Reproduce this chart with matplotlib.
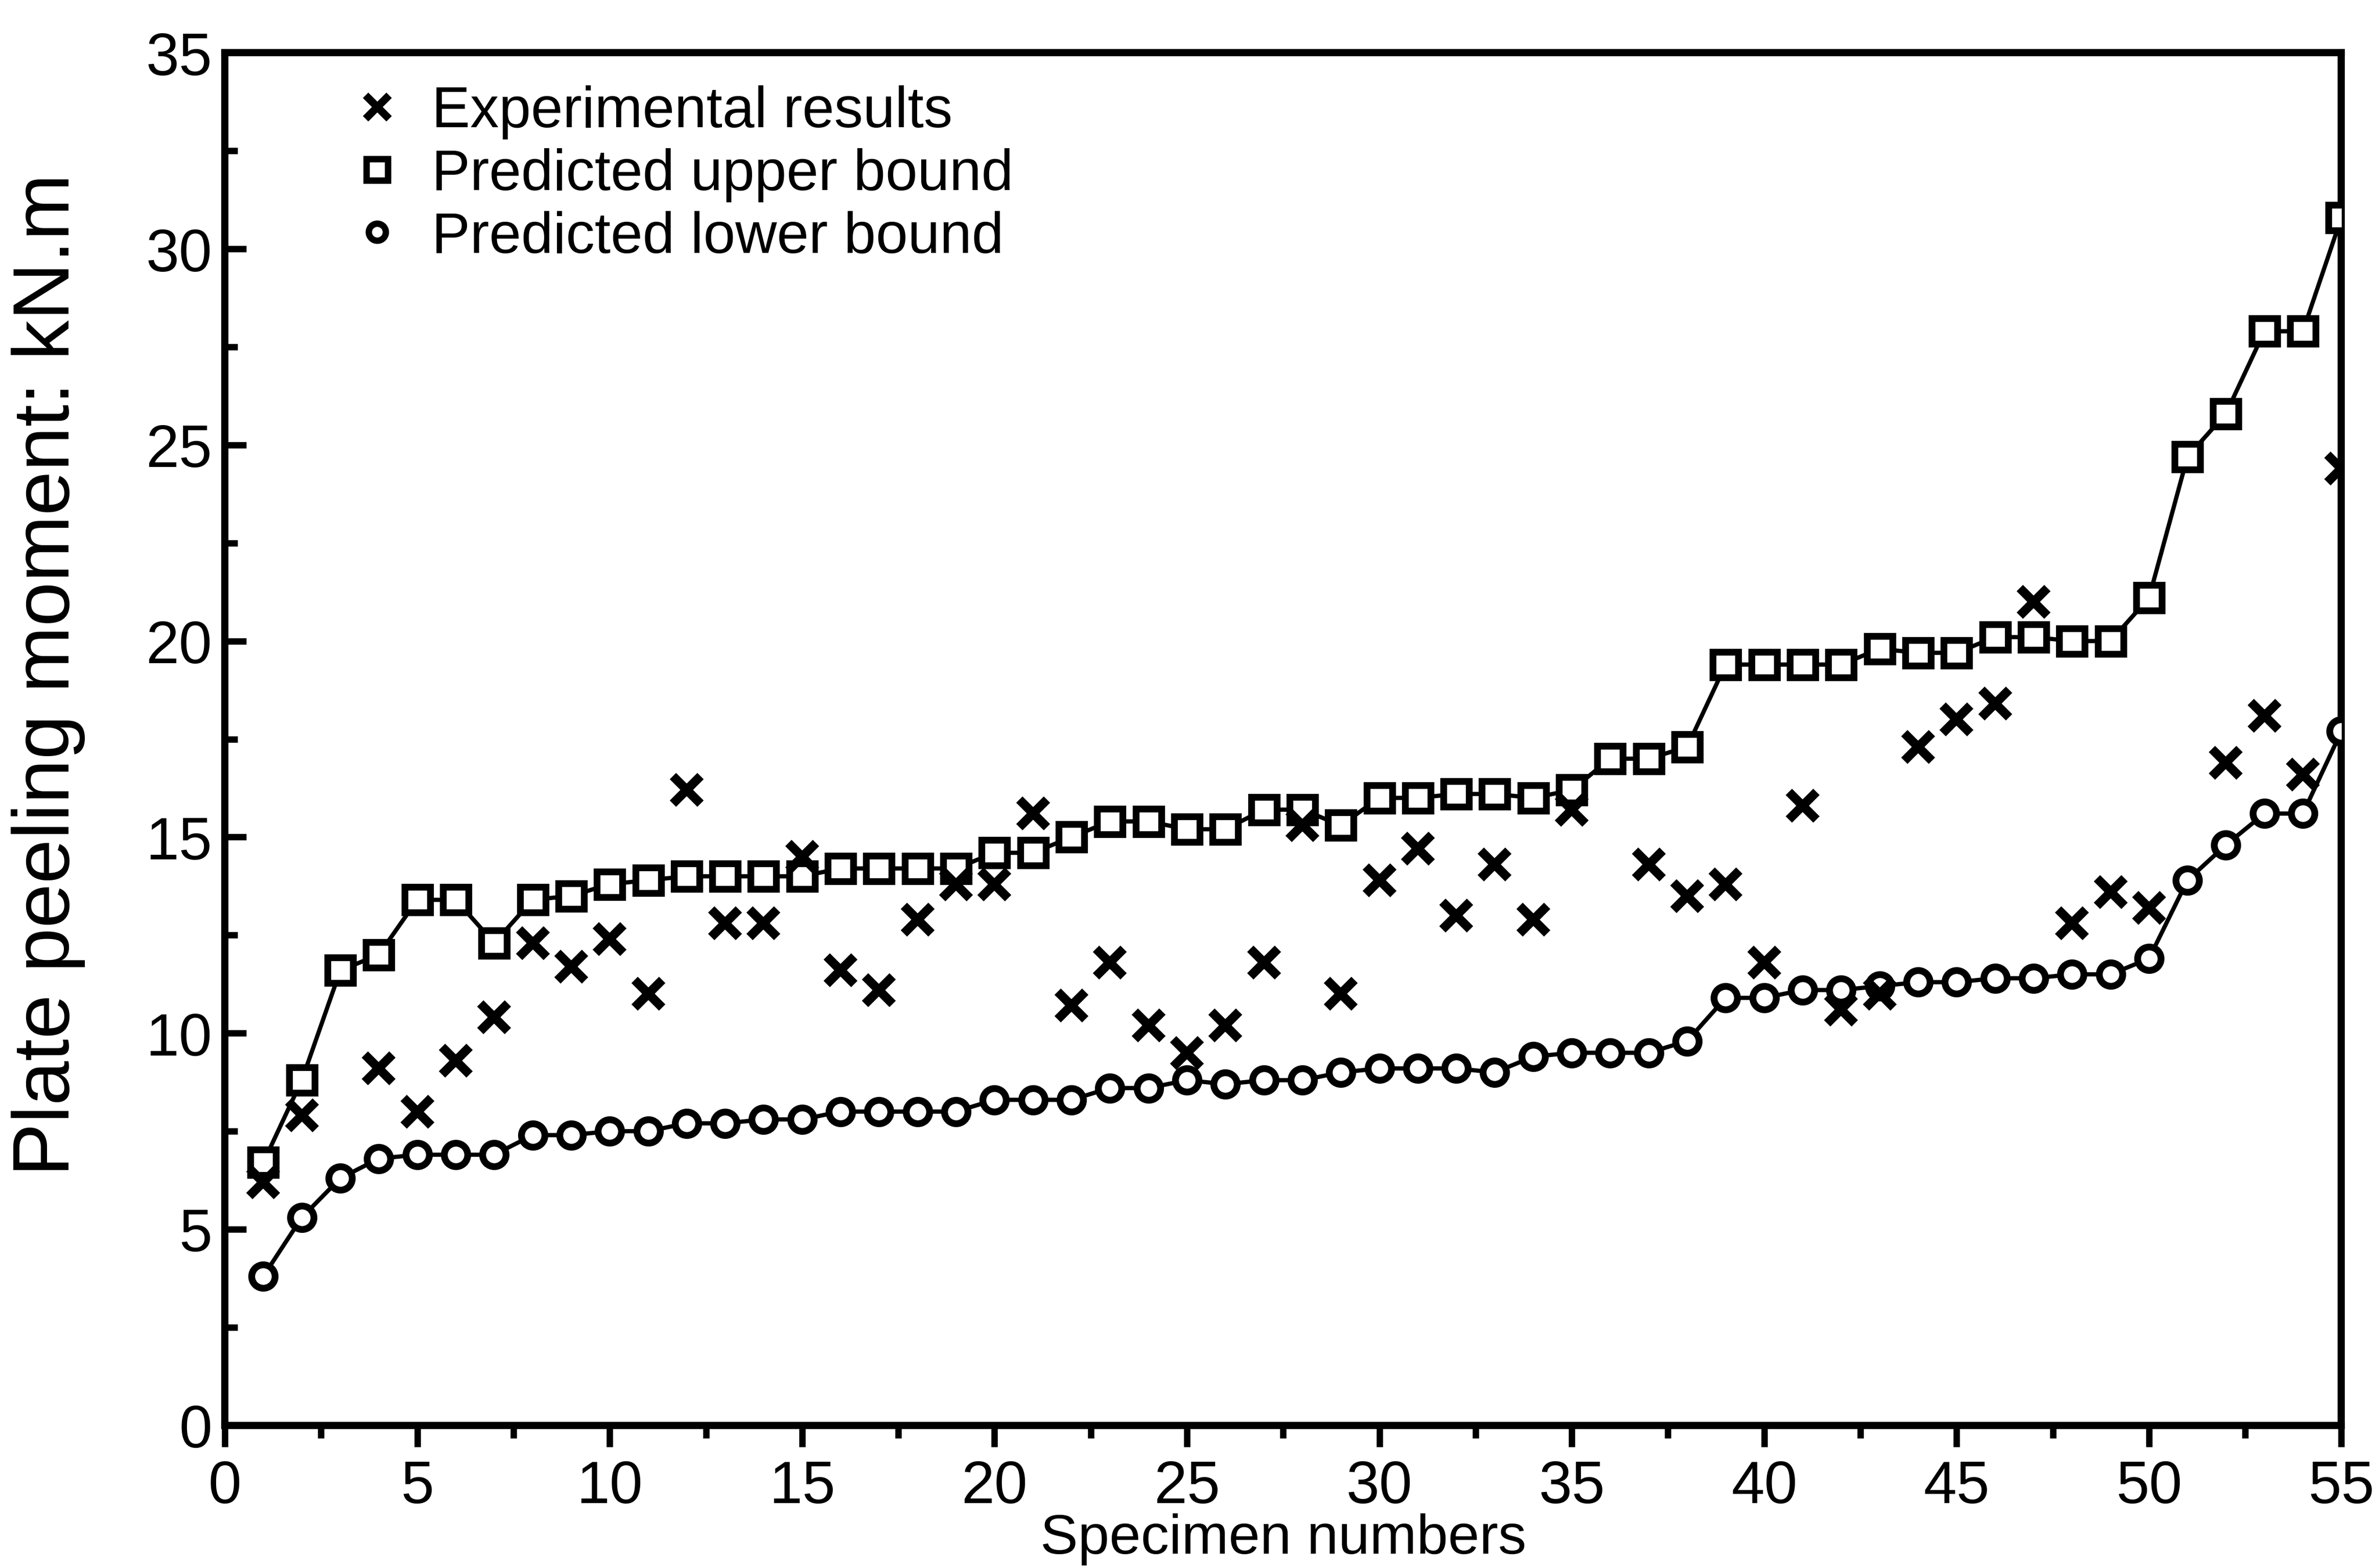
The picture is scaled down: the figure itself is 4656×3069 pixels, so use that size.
import matplotlib.pyplot as plt
from matplotlib.lines import Line2D
from matplotlib.ticker import MultipleLocator

plt.rcParams['font.family'] = ['Liberation Sans', 'DejaVu Sans']

# Specimen numbers
specimens = list(range(1, 56))

# Predicted upper bound (kN.m)
upper = [6.7, 8.8, 11.6, 12.0, 13.4, 13.4, 12.3, 13.4, 13.5, 13.8,
         13.9, 14.0, 14.0, 14.0, 14.0, 14.2, 14.2, 14.2, 14.2, 14.6,
         14.6, 15.0, 15.4, 15.4, 15.2, 15.2, 15.7, 15.7, 15.3, 16.0,
         16.0, 16.1, 16.1, 16.0, 16.2, 17.0, 17.0, 17.3, 19.4, 19.4,
         19.4, 19.4, 19.8, 19.7, 19.7, 20.1, 20.1, 20.0, 20.0, 21.1,
         24.7, 25.8, 27.9, 27.9, 30.8]

# Predicted lower bound (kN.m)
lower = [3.8, 5.3, 6.3, 6.8, 6.9, 6.9, 6.9, 7.4, 7.4, 7.5,
         7.5, 7.7, 7.7, 7.8, 7.8, 8.0, 8.0, 8.0, 8.0, 8.3,
         8.3, 8.3, 8.6, 8.6, 8.8, 8.7, 8.8, 8.8, 9.0, 9.1,
         9.1, 9.1, 9.0, 9.4, 9.5, 9.5, 9.5, 9.8, 10.9, 10.9,
         11.1, 11.1, 11.2, 11.3, 11.3, 11.4, 11.4, 11.5, 11.5, 11.9,
         13.9, 14.8, 15.6, 15.6, 17.7]

# Experimental results (specimens 3, 36 and 51 have no visible point)
exp_x = [1, 2, 4, 5, 6, 7, 8, 9, 10, 11, 12, 13, 14, 15, 16, 17, 18, 19, 20,
         21, 22, 23, 24, 25, 26, 27, 28, 29, 30, 31, 32, 33, 34, 35,
         37, 38, 39, 40, 41, 42, 43, 44, 45, 46, 47, 48, 49, 50,
         52, 53, 54, 55]
exp_y = [6.2, 7.9, 9.1, 8.0, 9.3, 10.4, 12.3, 11.7, 12.4, 11.0, 16.2, 12.8, 12.8,
         14.5, 11.6, 11.1, 12.9, 13.8, 13.8,
         15.6, 10.7, 11.8, 10.2, 9.5, 10.2, 11.8, 15.3, 11.0, 13.9, 14.7, 13.0,
         14.3, 12.9, 15.7,
         14.3, 13.5, 13.8, 11.8, 15.8, 10.6, 11.0, 17.3, 18.0, 18.4, 21.0, 12.8,
         13.6, 13.2,
         16.9, 18.1, 16.6, 24.4]

fig = plt.figure(figsize=(15.523, 10.233), dpi=300)
ax = fig.add_axes([0.0945, 0.091, 0.8895, 0.875])

ax.plot(specimens, upper, color='black', lw=2.0, marker='s', ms=12,
        mfc='white', mec='black', mew=3.2, zorder=3)
ax.plot(specimens, lower, color='black', lw=2.0, marker='o', ms=11,
        mfc='white', mec='black', mew=3.2, zorder=3)
ax.plot(exp_x, exp_y, ls='none', marker='x', ms=13, mec='black', mew=4.2,
        zorder=4)

ax.set_xlim(0, 55)
ax.set_ylim(0, 35)
ax.xaxis.set_major_locator(MultipleLocator(5))
ax.xaxis.set_minor_locator(MultipleLocator(2.5))
ax.yaxis.set_major_locator(MultipleLocator(5))
ax.yaxis.set_minor_locator(MultipleLocator(2.5))
ax.tick_params(axis='x', which='major', direction='out', length=10, width=3,
               labelsize=28, pad=6)
ax.tick_params(axis='x', which='minor', direction='out', length=6, width=3)
ax.tick_params(axis='y', which='major', direction='in', length=10, width=3,
               labelsize=28, pad=6)
ax.tick_params(axis='y', which='minor', direction='in', length=6, width=3)
for s in ax.spines.values():
    s.set_linewidth(3.4)

ax.set_xlabel('Specimen numbers', fontsize=26.5, labelpad=-1)
ax.set_ylabel('Plate peeling moment: kN.m', fontsize=37.5)
ax.yaxis.set_label_coords(-0.066, 0.547)

handles = [
    Line2D([], [], ls='none', marker='x', ms=11, mec='black', mew=3.6),
    Line2D([], [], ls='none', marker='s', ms=10, mfc='white', mec='black', mew=3.0),
    Line2D([], [], ls='none', marker='o', ms=8, mfc='white', mec='black', mew=3.0),
]
labels = ['Experimental results', 'Predicted upper bound', 'Predicted lower bound']
ax.legend(handles, labels, loc='upper left', bbox_to_anchor=(0.042, 1.006),
          frameon=False, fontsize=27, handlelength=0.8, handletextpad=0.55,
          labelspacing=0.15, borderpad=0.2)

plt.savefig('out.png')
